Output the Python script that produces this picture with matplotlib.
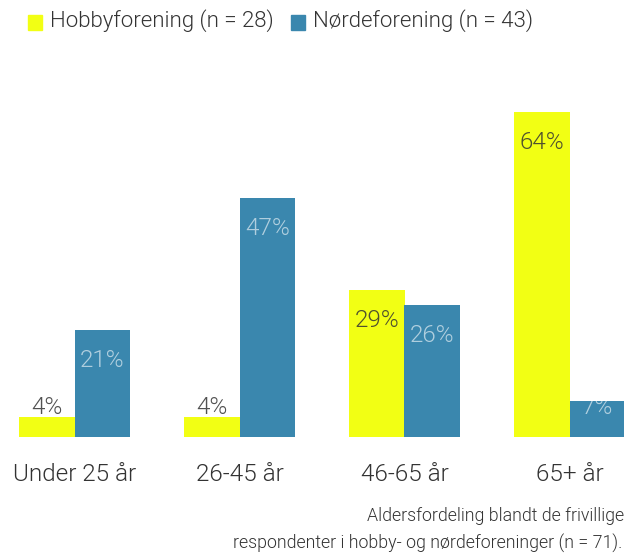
import numpy as np
import matplotlib
matplotlib.use("Agg")
import matplotlib.pyplot as plt

categories = ["Under 25 år", "26-45 år", "46-65 år", "65+ år"]
hobby = [4, 4, 29, 64]
nerd = [21, 47, 26, 7]
series_names = ["Hobbyforening (n = 28)", "Nørdeforening (n = 43)"]
caption = ["Aldersfordeling blandt de frivillige",
           "respondenter i hobby- og nørdeforeninger (n = 71)."]

YELLOW = "#f2ff14"
BLUE = "#3a87ae"
TXT = "#333333"

plt.rcParams["font.family"] = ["Roboto", "DejaVu Sans"]
plt.rcParams["font.weight"] = 300

W, H = 624, 553
fig = plt.figure(figsize=(W / 100, H / 100), dpi=100)

# axes: baseline at y=437px, 64% at y=112px; group centres at 74.5 + 165*i px
ax = fig.add_axes([0, (H - 437) / H, 1, 325 / H])
ax.set_xlim(-74.5 / 165, (W - 74.5) / 165)
ax.set_ylim(0, 64)
ax.axis("off")

x = np.arange(len(categories))
bw = 55.5 / 165
ax.bar(x - bw / 2, hobby, bw, color=YELLOW, clip_on=False)
ax.bar(x + bw / 2, nerd, bw, color=BLUE, clip_on=False)

for i in range(len(categories)):
    # labels sit ~30px under the bar top, but never below ~6%
    ax.text(i - bw / 2, max(hobby[i] - 6, 5.9), f"{hobby[i]}%", ha="center",
            va="center", fontsize=17.5, color=TXT, alpha=0.85)
    ax.text(i + bw / 2, max(nerd[i] - 6, 5.9), f"{nerd[i]}%", ha="center",
            va="center", fontsize=17.5, color="white", alpha=0.6)
    ax.text(i, -7.4, categories[i], ha="center", va="center",
            fontsize=17.5, color=TXT)

# legend
fig.patches.append(plt.Rectangle((28 / W, 1 - 30 / H), 14 / W, 15 / H,
                                  transform=fig.transFigure, color=YELLOW))
fig.text(50 / W, 1 - 21 / H, series_names[0], ha="left", va="center",
         fontsize=16, color=TXT)
fig.patches.append(plt.Rectangle((291 / W, 1 - 30 / H), 14 / W, 15 / H,
                                  transform=fig.transFigure, color=BLUE))
fig.text(313 / W, 1 - 21 / H, series_names[1], ha="left", va="center",
         fontsize=16, color=TXT)

# caption
fig.text(624 / W, 1 - 516 / H, caption[0], ha="right", va="center",
         fontsize=12.8, color=TXT)
fig.text(622 / W, 1 - 543 / H, caption[1], ha="right", va="center",
         fontsize=12.8, color=TXT)

fig.savefig("out.png", dpi=100)
